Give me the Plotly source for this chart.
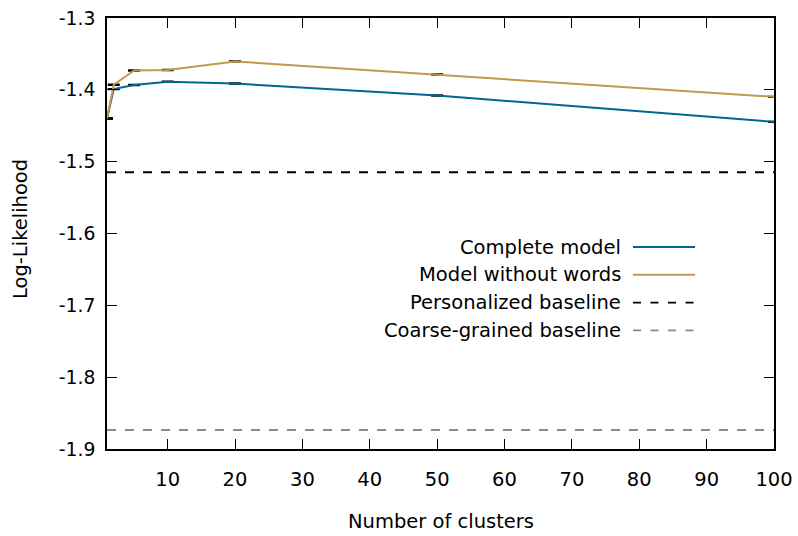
import plotly.graph_objects as go

# Log-likelihood vs. number of clusters
clusters = [1, 2, 5, 10, 20, 50, 100]
complete_model = [-1.4400, -1.3990, -1.3934, -1.3888, -1.3912, -1.4080, -1.4446]
model_without_words = [-1.4400, -1.3930, -1.3731, -1.3725, -1.3605, -1.3787, -1.4098]
complete_err = [0.0006] * len(clusters)
nowords_err = [0.0006] * len(clusters)
personalized_baseline = -1.5148
coarse_baseline = -1.8735

series_names = ["Complete model", "Model without words",
                "Personalized baseline", "Coarse-grained baseline"]
x_ticks = [10, 20, 30, 40, 50, 60, 70, 80, 90, 100]
y_ticks = [-1.3, -1.4, -1.5, -1.6, -1.7, -1.8, -1.9]

BLUE = "#03668c"
TAN = "#c2994f"
GRAY = "#8a8a8a"
FONT = "DejaVu Sans"
FS = 19.5

W, H = 798, 536
L, R, T, B = 107, 24, 18, 87
PW, PH = W - L - R, H - T - B


def px(x):
    return (x - L) / PW


def py(y):
    return (H - B - y) / PH


fig = go.Figure()

fig.add_trace(go.Scatter(
    x=[clusters[0], clusters[-1]], y=[personalized_baseline] * 2,
    mode="lines", line=dict(color="black", width=1.9, dash="9px,9px"),
    showlegend=False, hoverinfo="skip"))
fig.add_trace(go.Scatter(
    x=[clusters[0], clusters[-1]], y=[coarse_baseline] * 2,
    mode="lines", line=dict(color=GRAY, width=1.9, dash="9px,9px"),
    showlegend=False, hoverinfo="skip"))

for vals, errs, color in [(complete_model, complete_err, BLUE),
                          (model_without_words, nowords_err, TAN)]:
    fig.add_trace(go.Scatter(
        x=clusters, y=vals, mode="lines",
        line=dict(color=color, width=2),
        error_y=dict(type="data", array=errs, visible=True,
                     color="black", thickness=1.6, width=6),
        showlegend=False))

# key: right-aligned text with the line sample to its right
key_styles = [
    dict(color=BLUE, width=2),
    dict(color=TAN, width=2),
    dict(color="black", width=1.9, dash="8px,9.5px"),
    dict(color=GRAY, width=1.9, dash="8px,9.5px"),
]
row0, row_step = 247, 27.8
for i, (name, style) in enumerate(zip(series_names, key_styles)):
    yy = row0 + i * row_step
    fig.add_annotation(x=px(623), y=py(yy), xref="paper", yref="paper",
                       text=name, showarrow=False, xanchor="right",
                       yanchor="middle", font=dict(family=FONT, size=FS, color="black"))
    fig.add_shape(type="line", xref="paper", yref="paper",
                  x0=px(633), x1=px(695), y0=py(yy), y1=py(yy), line=style)

fig.add_annotation(x=px(441), y=py(521), xref="paper", yref="paper",
                   text="Number of clusters", showarrow=False,
                   xanchor="center", yanchor="middle",
                   font=dict(family=FONT, size=FS, color="black"))
fig.add_annotation(x=px(21), y=py(229), xref="paper", yref="paper",
                   text="Log-Likelihood", showarrow=False, textangle=-90,
                   xanchor="center", yanchor="middle",
                   font=dict(family=FONT, size=FS, color="black"))

axis_common = dict(showline=True, linecolor="black", linewidth=1.5,
                   mirror="allticks", ticks="inside", ticklen=10,
                   tickcolor="black", tickwidth=1, showgrid=False,
                   zeroline=False, automargin=False)

fig.update_xaxes(range=[1, 100], tickvals=x_ticks, ticklabelstandoff=12,
                 tickfont=dict(family=FONT, size=FS, color="black"),
                 **axis_common)
fig.update_yaxes(range=[-1.9, -1.3], tickvals=y_ticks,
                 ticktext=[f"{v:.1f}" for v in y_ticks], ticklabelstandoff=6,
                 tickfont=dict(family=FONT, size=18.8, color="black"),
                 **axis_common)

fig.update_layout(width=W, height=H, margin=dict(l=L, r=R, t=T, b=B),
                  plot_bgcolor="white", paper_bgcolor="white",
                  font=dict(family=FONT, size=FS, color="black"))

fig.write_html("out.html")
